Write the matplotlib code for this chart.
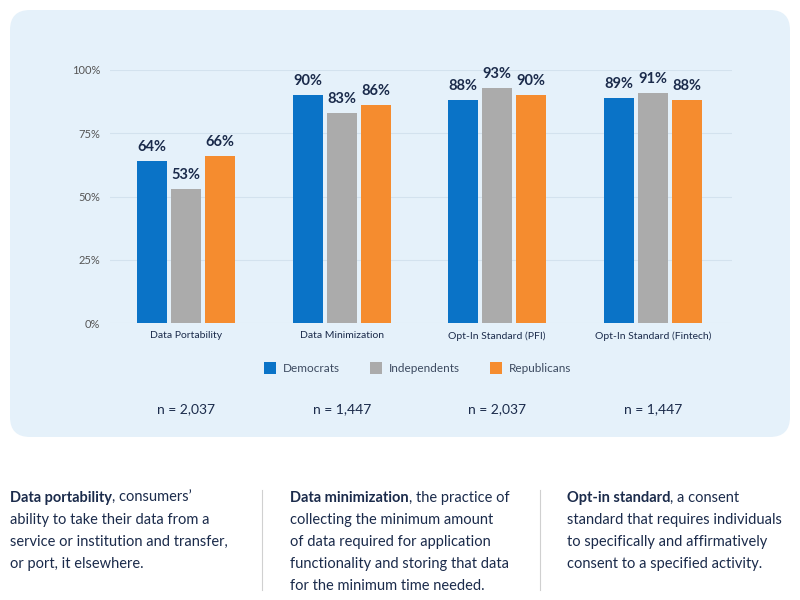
import numpy as np
import matplotlib.pyplot as plt
from matplotlib.patches import FancyBboxPatch, Rectangle
from matplotlib.text import Annotation

# Data
categories = ["Data Portability", "Data Minimization", "Opt-In Standard (PFI)", "Opt-In Standard (Fintech)"]
democrats = [64, 90, 88, 89]
independents = [53, 83, 93, 91]
republicans = [66, 86, 90, 88]
sample_sizes = ["n = 2,037", "n = 1,447", "n = 2,037", "n = 1,447"]
series_names = ["Democrats", "Independents", "Republicans"]
yticks = [0, 25, 50, 75, 100]

notes_bold = ["Data portability", "Data minimization", "Opt-in standard"]
notes_first = [", consumers\u2019", ", the practice of", ", a consent"]
notes_rest = [
    "ability to take their data from a\nservice or institution and transfer,\nor port, it elsewhere.",
    "collecting the minimum amount\nof data required for application\nfunctionality and storing that data\nfor the minimum time needed.",
    "standard that requires individuals\nto specifically and affirmatively\nconsent to a specified activity.",
]

colors = ["#0A73C7", "#ABABAB", "#F58C2F"]
navy = "#1B2B4B"
panel = "#E5F1FA"

plt.rcParams['font.family'] = ['Lato', 'DejaVu Sans']

fig = plt.figure(figsize=(8, 6), dpi=100)
fig.patch.set_facecolor("white")

# Rounded background panel
bg = FancyBboxPatch((10/800, 1-437/600), 780/800, 427/600,
                    boxstyle="round,pad=0,rounding_size=0.025",
                    transform=fig.transFigure, facecolor=panel, edgecolor="none",
                    mutation_aspect=800/600, zorder=-10)
fig.patches.append(bg)

ax = fig.add_axes([110/800, 1-323/600, 622/800, 253/600])
ax.set_facecolor("none")

x = np.arange(len(categories))
w = 0.192
off = 0.219
for i, (vals, c, name) in enumerate(zip([democrats, independents, republicans], colors, series_names)):
    bars = ax.bar(x + (i-1)*off, vals, width=w, color=c, zorder=3, label=name)
    for b, v in zip(bars, vals):
        ax.annotate(f"{v}%", xy=(b.get_x() + b.get_width()/2, v), xytext=(0, 5),
                    textcoords="offset points", ha="center", va="bottom",
                    fontsize=10.5, fontweight="bold", color=navy)

ax.set_xlim(-0.49, 3.51)
ax.set_ylim(0, 100)
ax.set_yticks(yticks)
ax.set_yticklabels([f"{t}%" for t in yticks], fontsize=8, color="#555555")
ax.grid(axis="y", color="#D3E2EE", linewidth=0.8, zorder=0)
ax.set_xticks(x)
ax.set_xticklabels(categories, fontsize=7.5, color=navy)
ax.tick_params(length=0, axis="both")
ax.tick_params(axis="y", pad=7)
ax.tick_params(axis="x", pad=6)
for s in ax.spines.values():
    s.set_visible(False)

# Legend
leg_x = [264, 370, 490]
for lx, c, name in zip(leg_x, colors, series_names):
    fig.patches.append(Rectangle((lx/800, 1-374/600), 12/800, 12/600,
                                 transform=fig.transFigure, facecolor=c, edgecolor="none"))
    fig.text((lx+19)/800, 1-368/600, name, fontsize=8.5, color="#3C4A60", va="center")

# Sample sizes
for xi, n in zip(x, sample_sizes):
    ax.annotate(n, xy=(xi, 0), xycoords="data", xytext=(0, -62), textcoords="offset points",
                ha="center", va="center", fontsize=10, color=navy, annotation_clip=False)

# Definitions below the chart
col_x = [10, 290, 567]
for cx, b, f, r in zip(col_x, notes_bold, notes_first, notes_rest):
    t = fig.text(cx/800, 1-498/600, b, fontsize=10.5, fontweight="bold", color=navy, va="center")
    fig.add_artist(Annotation(f, xy=(1, 0.5), xycoords=t, va="center",
                              fontsize=10.5, color=navy))
    fig.text(cx/800, 1-513/600, r, fontsize=10.5, color=navy, va="top", linespacing=1.73)

for dx in [262, 540]:
    fig.add_artist(plt.Line2D([dx/800, dx/800], [1-490/600, 1-590/600],
                              transform=fig.transFigure, color="#D0D0D0", linewidth=0.8))

fig.savefig("out.png", dpi=100, facecolor="white")
